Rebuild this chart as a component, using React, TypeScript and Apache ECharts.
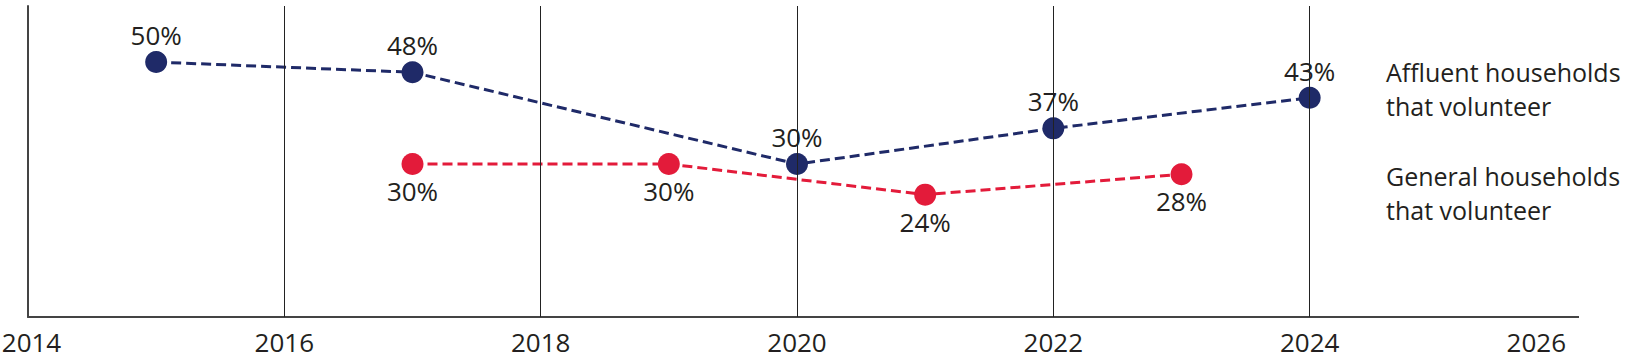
import React, { useEffect, useRef } from "react";
import * as echarts from "echarts";

const affluentYears = [2015, 2017, 2020, 2022, 2024];
const affluentValues = [50, 48, 30, 37, 43];
const generalYears = [2017, 2019, 2021, 2023];
const generalValues = [30, 30, 24, 28];
const gridYears = [2016, 2018, 2020, 2022, 2024];
const seriesNames = ["Affluent households\nthat volunteer", "General households\nthat volunteer"];

const FONT = "'Open Sans', 'Noto Sans', sans-serif";
const NAVY = "#1f2a68";
const RED = "#e31b3a";
const TEXT = "#231f20";

export default function App() {
  const ref = useRef<HTMLDivElement>(null);
  useEffect(() => {
    document.body.style.margin = "0";
    const chart = echarts.init(ref.current!, null, { renderer: "svg" });
    const labelStyle = { fontSize: 26, color: TEXT, fontFamily: FONT };
    chart.setOption({
      animation: false,
      textStyle: { fontFamily: FONT },
      grid: { left: 28, right: 70, top: 6, bottom: 43, containLabel: false, outerBoundsMode: "none" },
      legend: {
        show: true,
        orient: "vertical",
        left: 1376,
        top: 50,
        icon: "none",
        itemWidth: 0,
        itemHeight: 0,
        itemGap: 36,
        selectedMode: false,
        textStyle: { fontSize: 25, color: TEXT, fontFamily: FONT, lineHeight: 34 },
        data: seriesNames,
      },
      xAxis: {
        type: "value",
        min: 2014,
        max: 2026,
        interval: 2,
        axisLine: { show: true, lineStyle: { color: "#444", width: 2 } },
        axisTick: { show: false },
        splitLine: { show: false },
        axisLabel: {
          fontSize: 26,
          color: TEXT,
          fontFamily: FONT,
          margin: 12,
          alignMaxLabel: "right",
          formatter: (v: number) => (v === 2014 ? "{first|" + v + "}" : String(v)),
          rich: {
            first: { fontSize: 26, color: TEXT, fontFamily: FONT, padding: [0, 0, 0, 7] },
          },
        },
      },
      yAxis: {
        type: "value",
        min: 0,
        max: 61,
        axisLine: { show: true, lineStyle: { color: "#444", width: 2 } },
        axisTick: { show: false },
        axisLabel: { show: false },
        splitLine: { show: false },
      },
      series: [
        {
          type: "line",
          data: [],
          z: 1,
          silent: true,
          markLine: {
            silent: true,
            symbol: ["none", "none"],
            label: { show: false },
            lineStyle: { color: "#222", width: 1, type: "solid" },
            data: gridYears.map((y) => ({ xAxis: y })),
          },
        },
        {
          name: seriesNames[0],
          type: "line",
          z: 3,
          smooth: false,
          data: affluentYears.map((y, i) => [y, affluentValues[i]]),
          symbol: "circle",
          symbolSize: 22,
          itemStyle: { color: NAVY },
          lineStyle: { color: NAVY, width: 3, type: [10, 5] },
          label: {
            show: true,
            position: "top",
            distance: 3,
            formatter: (p: any) => p.value[1] + "%",
            ...labelStyle,
          },
        },
        {
          name: seriesNames[1],
          type: "line",
          z: 3,
          smooth: false,
          data: generalYears.map((y, i) => [y, generalValues[i]]),
          symbol: "circle",
          symbolSize: 22,
          itemStyle: { color: RED },
          lineStyle: { color: RED, width: 3, type: [10, 5] },
          label: {
            show: true,
            position: "bottom",
            distance: 3,
            formatter: (p: any) => p.value[1] + "%",
            ...labelStyle,
          },
        },
      ],
      graphic: [
        {
          type: "line",
          shape: { x1: 1566, y1: 317, x2: 1579, y2: 317 },
          style: { stroke: "#444", lineWidth: 2 },
          silent: true,
        },
      ],
    });
    return () => chart.dispose();
  }, []);
  return <div ref={ref} style={{ width: 1636, height: 360 }} />;
}
